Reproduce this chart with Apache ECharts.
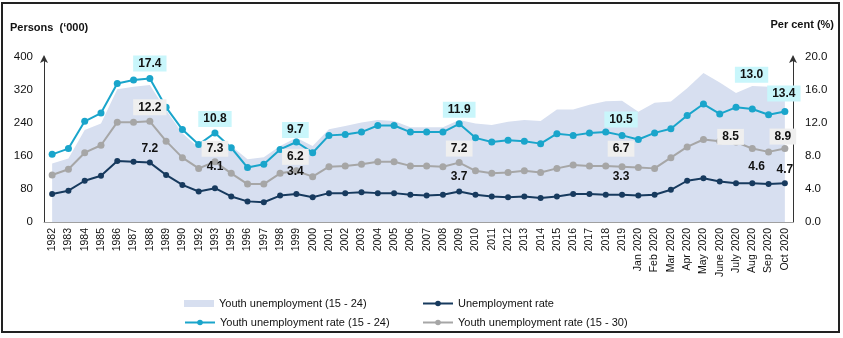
<!DOCTYPE html>
<html>
<head>
<meta charset="utf-8">
<script src="https://cdn.jsdelivr.net/npm/echarts@6/dist/echarts.min.js"></script>
<style>
html,body{margin:0;padding:0;background:#fff;}
#c{width:843px;height:338px;}
</style>
</head>
<body>
<div id="c"></div>
<script>
var categories = ['1982','1983','1984','1985','1986','1987','1988','1989','1990','1992','1993','1995','1996','1997','1998','1999','2000','2001','2002','2003','2004','2005','2006','2007','2008','2009','2010','2011','2012','2013','2014','2015','2016','2017','2018','2019','Jan 2020','Feb 2020','Mar 2020','Apr 2020','May 2020','June 2020','July 2020','Aug 2020','Sep 2020','Oct 2020'];

var youthUnemployment = [142,154,223,239,322,328,332,271,215,180,195,184,152,157,184,204,184,225,233,241,247,245,230,230,230,247,239,235,243,247,245,273,273,284,293,294,267,289,292,324,361,338,313,330,328,325];

var unemploymentRate = [3.4,3.8,5.0,5.6,7.4,7.3,7.2,5.7,4.5,3.7,4.1,3.1,2.5,2.4,3.2,3.4,3.0,3.5,3.5,3.6,3.5,3.5,3.3,3.2,3.3,3.7,3.3,3.1,3.0,3.1,2.9,3.1,3.4,3.4,3.3,3.3,3.2,3.3,3.9,5.0,5.3,4.9,4.7,4.7,4.6,4.7];

var youthRate1524 = [8.2,8.9,12.2,13.2,16.8,17.2,17.4,13.9,11.2,9.4,10.8,9.0,6.6,7.0,8.8,9.7,8.4,10.5,10.6,10.9,11.7,11.7,10.9,10.9,10.9,11.9,10.2,9.7,9.9,9.8,9.5,10.7,10.5,10.8,10.9,10.5,10.0,10.8,11.3,12.9,14.3,13.1,13.9,13.7,13.0,13.4];

var youthRate1530 = [5.7,6.4,8.4,9.3,12.1,12.1,12.2,9.8,7.8,6.5,7.3,5.9,4.6,4.6,5.9,6.2,5.5,6.7,6.8,7.0,7.3,7.3,6.8,6.8,6.7,7.2,6.2,5.9,6.0,6.2,6.0,6.5,6.9,6.8,6.8,6.7,6.6,6.5,7.8,9.1,10.0,9.8,9.7,8.9,8.5,8.9];

var leftTicks = [0,80,160,240,320,400];
var rightTicks = ['0.0','4.0','8.0','12.0','16.0','20.0'];

// labelled points: index -> label offset [dx, dy]
var cyanLabels = {6:[0,-15],10:[0,-14],15:[-1,-12],25:[0,-14],35:[-1,-16],44:[-17,-40],45:[-1,-18]};
var grayLabels = {6:[0,-14],10:[0,-13],15:[-1,-14],25:[0,-14],35:[-1,-18],44:[-38,-15],45:[-2,-12]};
var darkLabels = {6:[0,-14],10:[0,-21],15:[-1,-22],25:[0,-15],35:[-1,-18],44:[-12,-17],45:[0,-14]};

var FONT = 'Arial, "Liberation Sans", sans-serif';
var C_AREA = '#d7dff0', C_DARK = '#173a5e', C_CYAN = '#1aa5cb', C_GRAY = '#a6a6a6';

function withLabels(values, labels, bg) {
  return values.map(function (v, i) {
    if (!labels[i]) return v;
    var lab = {
      show: true, position: 'inside', offset: labels[i],
      formatter: v.toFixed(1), fontFamily: FONT, fontSize: 12, fontWeight: 'bold', color: '#111'
    };
    if (bg) { lab.backgroundColor = bg; lab.padding = [2, 5]; }
    return { value: v, label: lab };
  });
}

var chart = echarts.init(document.getElementById('c'), null, {renderer: 'canvas'});

function legendAt(name, left, top, icon) {
  return {
    data: [icon ? {name: name, icon: icon} : name],
    left: left, top: top, padding: 0, itemWidth: 30, itemHeight: 7, itemGap: 0,
    textStyle: {fontFamily: FONT, fontSize: 11, color: '#111'},
    selectedMode: false
  };
}

var option = {
  backgroundColor: '#fff',
  animation: false,
  textStyle: {fontFamily: FONT},
  grid: {left: 44, right: 50, top: 57, bottom: 116, containLabel: false},
  legend: [
    legendAt('Youth unemployment (15 - 24)', 184, 298, 'rect'),
    legendAt('Unemployment rate', 422, 298),
    legendAt('Youth unemployment rate (15 - 24)', 184, 317),
    legendAt('Youth unemployment rate (15 - 30)', 422, 317)
  ],
  graphic: [
    {type: 'rect', shape: {x: 2, y: 3, width: 837, height: 329}, style: {fill: 'none', stroke: '#222', lineWidth: 2}, silent: true},
    {type: 'text', left: 10, top: 22, style: {text: 'Persons  (\u2018000)', font: 'bold 11px ' + FONT, fill: '#111'}},
    {type: 'text', right: 9, top: 19, style: {text: 'Per cent (%)', font: 'bold 11px ' + FONT, fill: '#111'}}
  ],
  xAxis: {
    type: 'category', data: categories, boundaryGap: true,
    axisLine: {lineStyle: {color: '#a0a0a0', width: 1}},
    axisTick: {show: false},
    axisLabel: {interval: 0, rotate: 90, fontSize: 10.5, color: '#111', fontFamily: FONT, margin: 6}
  },
  yAxis: [
    {
      type: 'value', min: 0, max: 400, interval: 80, position: 'left',
      axisLine: {show: true, symbol: ['none', 'arrow'], symbolSize: [6, 8], symbolOffset: [0, 2], lineStyle: {color: '#333', width: 1}},
      axisTick: {show: false}, splitLine: {show: false},
      axisLabel: {margin: 11, fontSize: 11.5, color: '#111', fontFamily: FONT,
        formatter: function (v) { return leftTicks.indexOf(v) >= 0 ? String(v) : ''; }}
    },
    {
      type: 'value', min: 0, max: 20, interval: 4, position: 'right',
      axisLine: {show: true, symbol: ['none', 'arrow'], symbolSize: [6, 8], symbolOffset: [0, 2], lineStyle: {color: '#333', width: 1}},
      axisTick: {show: false}, splitLine: {show: false},
      axisLabel: {margin: 12, fontSize: 11.5, color: '#111', fontFamily: FONT,
        formatter: function (v) { return rightTicks[Math.round(v / 4)]; }}
    }
  ],
  series: [
    {
      name: 'Youth unemployment (15 - 24)', type: 'line', yAxisIndex: 0, data: youthUnemployment,
      symbol: 'none', lineStyle: {width: 0, color: C_AREA}, itemStyle: {color: C_AREA},
      areaStyle: {color: C_AREA, opacity: 1}, z: 1, silent: true
    },
    {
      name: 'Unemployment rate', type: 'line', yAxisIndex: 1, data: withLabels(unemploymentRate, darkLabels, null),
      symbol: 'circle', symbolSize: 6, lineStyle: {width: 2, color: C_DARK}, itemStyle: {color: C_DARK}, z: 3
    },
    {
      name: 'Youth unemployment rate (15 - 24)', type: 'line', yAxisIndex: 1, data: withLabels(youthRate1524, cyanLabels, '#c9f6fb'),
      symbol: 'circle', symbolSize: 7, lineStyle: {width: 2, color: C_CYAN}, itemStyle: {color: C_CYAN}, z: 3
    },
    {
      name: 'Youth unemployment rate (15 - 30)', type: 'line', yAxisIndex: 1, data: withLabels(youthRate1530, grayLabels, '#efefef'),
      symbol: 'circle', symbolSize: 7, lineStyle: {width: 2, color: C_GRAY}, itemStyle: {color: C_GRAY}, z: 3
    }
  ]
};
chart.setOption(option);
</script>
</body>
</html>
